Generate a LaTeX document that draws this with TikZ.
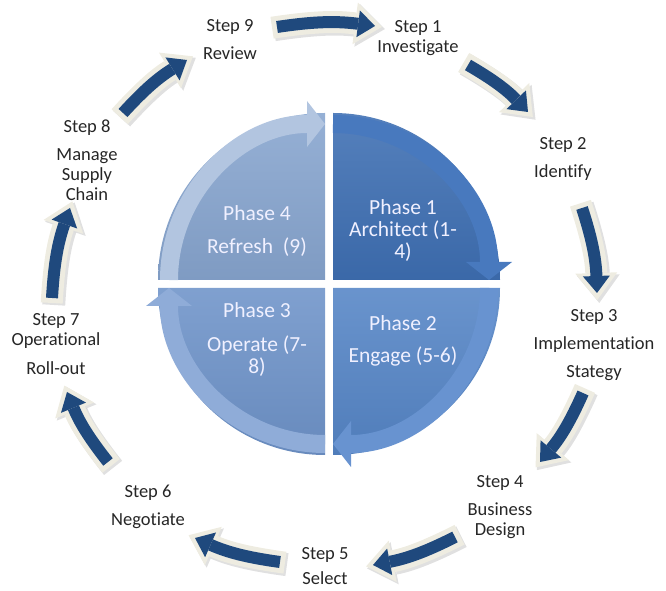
\documentclass[tikz,border=0pt]{standalone}
\usepackage{fontspec}
\setmainfont{Carlito}[Ligatures=NoCommon]
\usetikzlibrary{arrows.meta}

\definecolor{navy}{HTML}{1F497D}
\definecolor{cream}{HTML}{EEECE1}
\definecolor{phaseA}{HTML}{3E6FB3}
\definecolor{phaseB}{HTML}{5585C6}
\definecolor{phaseC}{HTML}{6E93C9}
\definecolor{phaseD}{HTML}{87A5CF}
\definecolor{bandA}{HTML}{4879BE}
\definecolor{bandB}{HTML}{6893D0}
\definecolor{bandC}{HTML}{8FACD8}
\definecolor{bandD}{HTML}{B2C5E0}

\begin{document}
\begin{tikzpicture}[
  x=1pt, y=1pt,
  steplbl/.style={align=center, font=\fontsize{18.5}{20}\selectfont, text=black!85},
  phaselbl/.style={align=center, font=\fontsize{21.5}{22}\selectfont, text=white!94!blue},
  ringshadow/.style={draw=black!35, opacity=.35, line width=23pt,
    shorten <=-5pt, shorten >=-8pt,
    -{Triangle[length=28pt,width=43pt,line width=0pt]},
    transform canvas={shift={(2pt,-2pt)}}},
  ringrim/.style={draw=cream, line width=22pt, shorten <=-5pt, shorten >=-7pt,
    -{Triangle[length=27pt,width=42pt,line width=0pt]}},
  ringarrow/.style={draw=navy, line width=12pt,
    -{Triangle[length=17pt,width=27pt,line width=0pt]}},
  band/.style={line width=18pt, -{Triangle[length=18pt,width=46pt,line width=0pt]}}
]
  \useasboundingbox (0,0) rectangle (666,591);

  % four phase quadrants
  \foreach \cx/\cy/\a/\fc in {333/311/0/phaseA, 333/303/-90/phaseB,
      325/303/180/phaseC, 325/311/90/phaseD}
    \shade[top color=\fc!88!white, bottom color=\fc!94!black]
      (\cx,\cy) -- ++(\a:167) arc[start angle=\a, end angle=\a+90, radius=167] -- cycle;
  % inner arrows along their rims
  \foreach \cx/\cy/\a/\bc in {333/311/0/bandA, 333/303/-90/bandB,
      325/303/180/bandC, 325/311/90/bandD}
    \draw[band, draw=\bc] (\cx,\cy) ++(\a+90:156)
      arc[start angle=\a+90, end angle=\a, radius=156];

  \node[phaselbl] (p1) at (403,360) {Phase 1\\Architect (1-\\4)};
  \node[phaselbl] (p2) at (403,250) {Phase 2\\[10pt]Engage (5-6)};
  \node[phaselbl] (p3) at (257,251) {Phase 3\\[12pt]Operate (7-\\8)};
  \node[phaselbl] (p4) at (257,360) {Phase 4\\[11pt]Refresh\ \ (9)};

  % steps round the ring
  \node[steplbl] (s1) at (418,553) {Step 1\\Investigate};
  \node[steplbl] (s2) at (563,432) {Step 2\\[8pt]Identify};
  \node[steplbl] (s3) at (594,246) {Step 3\\[8pt]Implementation\\[8pt]Stategy};
  \node[steplbl] (s4) at (500,84) {Step 4\\[8pt]Business\\Design};
  \node[steplbl] (s5) at (325,25) {Step 5\\[5pt]Select};
  \node[steplbl] (s6) at (148,84) {Step 6\\[8pt]Negotiate};
  \node[steplbl] (s7) at (56,247) {Step 7\\Operational\\[9pt]Roll-out};
  \node[steplbl] (s8) at (87,431) {Step 8\\[8pt]Manage\\Supply\\Chain};
  \node[steplbl] (s9) at (230,551) {Step 9\\[8pt]Review};

  % arrow ends (tail t, head h) between the steps
  \coordinate (t1) at (468,526); \coordinate (h1) at (528,479);
  \coordinate (t2) at (582,383); \coordinate (h2) at (597,298);
  \coordinate (t3) at (583,198); \coordinate (h3) at (540,129);
  \coordinate (t4) at (455,54);  \coordinate (h4) at (373,26);
  \coordinate (t5) at (280,29);  \coordinate (h5) at (195,53);
  \coordinate (t6) at (108,129); \coordinate (h6) at (67,199);
  \coordinate (t7) at (52,293);  \coordinate (h7) at (70,383);
  \coordinate (t8) at (123,478); \coordinate (h8) at (187,531);
  \coordinate (t9) at (277,564); \coordinate (h9) at (375,565);

  \foreach \i in {1,...,9} {
    \draw[ringshadow] (t\i) to[bend left=8] (h\i);
    \draw[ringrim] (t\i) to[bend left=8] (h\i);
    \draw[ringarrow] (t\i) to[bend left=8] (h\i);
  }
\end{tikzpicture}
\end{document}
